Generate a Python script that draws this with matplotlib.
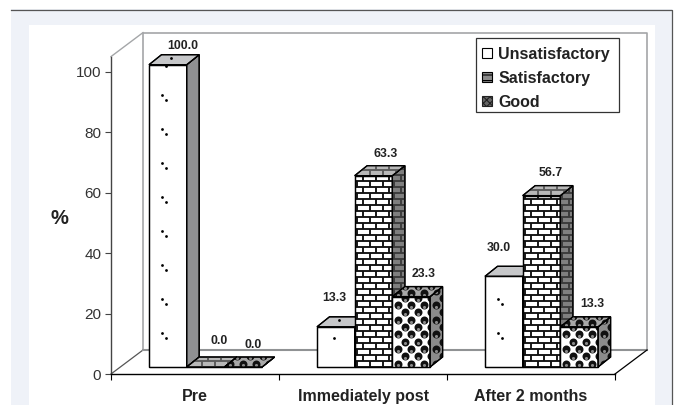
import numpy as np
import matplotlib
matplotlib.use("Agg")
from matplotlib import pyplot as plt
from matplotlib.collections import LineCollection
from matplotlib.patches import Patch, Polygon, Rectangle

plt.rcParams['font.family'] = ['Liberation Sans', 'DejaVu Sans']
plt.rcParams['hatch.linewidth'] = 0.8

categories = ['Pre', 'Immediately post', 'After 2 months']
series_names = ['Unsatisfactory', 'Satisfactory', 'Good']
unsatisfactory = [100.0, 13.3, 30.0]
satisfactory = [0.0, 63.3, 56.7]
good = [0.0, 23.3, 13.3]
y_ticks = [0, 20, 40, 60, 80, 100]

# label nudges in pixels from the top of each bar, same order as the series
label_dx = [[15, -2, -5], [14, 12, 9], [10, 12, 13]]
label_dy = [19, 26, 22, 29, 22, 23, 28, 23, 23]

W, H = 675, 405
X0, X1, Y0, Y100 = 111, 615, 374, 71.7
PX_X = 3 / (X1 - X0)          # one pixel in x data units
PX_Y = 100 / (Y0 - Y100)      # one pixel in y data units
YMAX = 105
WALL_X, WALL_Y = 32 * PX_X, 24 * PX_Y
BAR_W = 37.7                  # pixels
BAR_DX, BAR_DY = 12.5, 10
BASE = 7 * PX_Y
GROUP_OFF = 38 * PX_X


def add_face(ax, corners, color, z):
    poly = Polygon(corners, closed=True, facecolor=color, edgecolor='black',
                   linewidth=0.9, clip_on=False, zorder=z, joinstyle='miter')
    ax.add_patch(poly)
    return poly


def draw_bricks(ax, poly, o, size, color, z, row=6.0, brick=13.0):
    # flat bitmap-like fill, clipped to the face
    a_max, b_max = size
    segs = []
    k = 0
    while k * row <= b_max + row:
        y = o[1] + k * row * PX_Y
        segs.append([(o[0], y), (o[0] + a_max * PX_X, y)])
        a = 2.0 + (k % 2) * brick / 2
        while a <= a_max:
            x = o[0] + a * PX_X
            segs.append([(x, y), (x, y + row * PX_Y)])
            a += brick
        k += 1
    lc = LineCollection(segs, colors=color, linewidths=1.35, zorder=z)
    ax.add_collection(lc)
    lc.set_clip_path(poly)


def draw_balls(ax, poly, o, size, z, row=7.3, step=13.0):
    a_max, b_max = size
    xs, ys = [], []
    k = 0
    while k * row <= b_max + row:
        a = 6.0 + (k % 2) * step / 2
        while a <= a_max + step:
            xs.append(o[0] + a * PX_X)
            ys.append(o[1] + (3.5 + k * row) * PX_Y)
            a += step
        k += 1
    balls = ax.scatter(xs, ys, s=33, color='#111111', linewidths=0, zorder=z)
    balls.set_clip_path(poly)
    shine = ax.scatter(xs, np.array(ys) - 1.8 * PX_Y, s=5, color='#8a8a8a',
                       linewidths=0, zorder=z + 0.0001)
    shine.set_clip_path(poly)


def draw_dots(ax, poly, x, value):
    h = value / PX_Y
    b = 29.3
    xs, ys = [], []
    while b < h:
        xs.append(x + 17.3 * PX_X)
        ys.append(BASE + b * PX_Y)
        if b + 4.7 < h - 8:
            xs.append(x + 12.7 * PX_X)
            ys.append(BASE + (b + 4.7) * PX_Y)
        b += 34
    # the stray dot that lands on the top face
    if value < 20 or value > 90:
        xs.append(x + 21.5 * PX_X)
        ys.append(BASE + (h + 6.5) * PX_Y)
    ax.scatter(xs, ys, s=4, color='black', linewidths=0, zorder=poly.get_zorder() + 0.008,
               clip_on=False)


def draw_bar(ax, x, value, kind, z):
    h = value / PX_Y
    x2 = x + BAR_W * PX_X
    ddx, ddy = BAR_DX * PX_X, BAR_DY * PX_Y
    y1 = BASE + value
    front = [(x, BASE), (x2, BASE), (x2, y1), (x, y1)]
    side = [(x2, BASE), (x2 + ddx, BASE + ddy), (x2 + ddx, y1 + ddy), (x2, y1)]
    top = [(x, y1), (x2, y1), (x2 + ddx, y1 + ddy), (x + ddx, y1 + ddy)]
    side_col = {'u': '#8f9092', 's': '#7f7f7f', 'g': '#8c8c8c'}[kind]
    top_col = {'u': '#c6c7c9', 's': '#b8b8b8', 'g': '#a8a8a8'}[kind]

    faces = [(front, (x, BASE), (BAR_W, h), 'white', '#111111'),
             (side, (x2, BASE), (BAR_DX, h + BAR_DY), side_col, '#3a3a3a'),
             (top, (x, y1), (BAR_W + BAR_DX, BAR_DY), top_col, '#5a5a5a')]
    for i, (corners, o, size, col, line_col) in enumerate(faces):
        zf = z + i * 0.01
        poly = add_face(ax, corners, col, zf)
        if kind == 's':
            draw_bricks(ax, poly, o, size, line_col, zf + 0.001)
        elif kind == 'g':
            draw_balls(ax, poly, o, size, zf + 0.001)
        # redraw outline above the pattern
        ax.add_patch(Polygon(corners, closed=True, fill=False, edgecolor='black',
                             linewidth=0.9, clip_on=False, zorder=zf + 0.005))
    if kind == 'u':
        draw_dots(ax, poly, x, value)


fig = plt.figure(figsize=(W / 100, H / 100), dpi=100, facecolor='white')

# page panel behind the chart
fig.add_artist(Rectangle((11 / W, 0), 661 / W, 1 - 9 / H, transform=fig.transFigure,
                         facecolor='#eff2f8', edgecolor='none', zorder=-3))
fig.add_artist(Rectangle((29 / W, 0), 626 / W, 1 - 25 / H, transform=fig.transFigure,
                         facecolor='white', edgecolor='none', zorder=-2))
fig.add_artist(plt.Line2D([11 / W, 672 / W, 672 / W], [1 - 9.5 / H, 1 - 9.5 / H, 0],
                          transform=fig.transFigure, color='#555555', linewidth=0.9, zorder=-1))

ax = fig.add_axes([X0 / W, 1 - Y0 / H, (X1 - X0) / W, (Y0 - Y100) / H * YMAX / 100])
ax.patch.set_visible(False)
ax.set_xlim(0, 3)
ax.set_ylim(0, YMAX)

for s in ['top', 'right']:
    ax.spines[s].set_visible(False)
ax.spines['left'].set_color('#444444')
ax.spines['left'].set_linewidth(1.0)
ax.spines['bottom'].set_color('black')
ax.spines['bottom'].set_linewidth(1.0)

ax.set_yticks(y_ticks)
ax.tick_params(axis='y', length=4, width=0.8, color='#444444', labelsize=11,
               labelcolor='#333333', pad=3)
ax.set_xticks(range(len(categories) + 1))
ax.set_xticklabels([])
ax.set_xticks(np.arange(len(categories)) + 0.5, labels=categories, minor=True)
ax.tick_params(axis='x', which='major', length=4, width=0.8, color='black')
ax.tick_params(axis='x', which='minor', length=0, pad=10.5, labelsize=11.5, labelcolor='#222222')
for t in ax.get_xticklabels(minor=True):
    t.set_fontweight('bold')

ax.text(-52 * PX_X, (Y0 - 218.5) * PX_Y, '%', fontsize=14.5, fontweight='bold', color='#222222',
        ha='center', va='center', clip_on=False)

# back wall and floor
wall = '#a4a6a8'
ax.plot([WALL_X, WALL_X, 3 + WALL_X, 3 + WALL_X], [WALL_Y, YMAX + WALL_Y, YMAX + WALL_Y, WALL_Y],
        color=wall, linewidth=1.2, clip_on=False, zorder=1)
ax.plot([0, WALL_X], [YMAX, YMAX + WALL_Y], color=wall, linewidth=1.0, clip_on=False, zorder=1)
ax.plot([0, WALL_X], [0, WALL_Y], color='#555555', linewidth=0.9, clip_on=False, zorder=1)
ax.plot([WALL_X, 3 + WALL_X], [WALL_Y, WALL_Y], color='#909294', linewidth=1.5, clip_on=False, zorder=1)
ax.plot([3, 3 + WALL_X], [0, WALL_Y], color='black', linewidth=0.9, clip_on=False, zorder=1)

values = [unsatisfactory, satisfactory, good]
kinds = ['u', 's', 'g']
for c in range(len(categories)):
    for j, (vals, kind) in enumerate(zip(values, kinds)):
        x = c + GROUP_OFF + j * BAR_W * PX_X
        draw_bar(ax, x, vals[c], kind, 2 + c + j * 0.1)
        ax.annotate(f'{vals[c]:.1f}', (x + BAR_W * PX_X / 2, BASE + vals[c]),
                    xytext=(label_dx[j][c] * 0.72, label_dy[c * 3 + j] * 0.72),
                    textcoords='offset points', ha='center', va='center',
                    fontsize=8.8, fontweight='bold', color='#222222',
                    annotation_clip=False, zorder=10)

# legend box drawn on its own so its padding can match
ax.add_patch(Rectangle((476 / W, 1 - 112 / H), 143 / W, 74 / H, transform=fig.transFigure,
                       facecolor='white', edgecolor='#333333', linewidth=0.9,
                       clip_on=False, zorder=19))
handles = [Patch(facecolor='white', edgecolor='black', linewidth=0.8),
           Patch(facecolor='#8a8a8a', edgecolor='black', hatch='---', linewidth=0.8),
           Patch(facecolor='#666666', edgecolor='#222222', hatch='xxxxx', linewidth=0.8)]
leg = ax.legend(handles, series_names, loc='upper left',
                bbox_to_anchor=(476 / W, 1 - 40.5 / H), bbox_transform=fig.transFigure,
                prop={'size': 11.55, 'weight': 'bold'}, labelcolor='#222222',
                frameon=False,
                handlelength=0.62, handleheight=0.62, handletextpad=0.38,
                labelspacing=0.56, borderpad=0.38, borderaxespad=0)
leg.set_zorder(20)

fig.savefig('out.png', dpi=100, facecolor=fig.get_facecolor())
